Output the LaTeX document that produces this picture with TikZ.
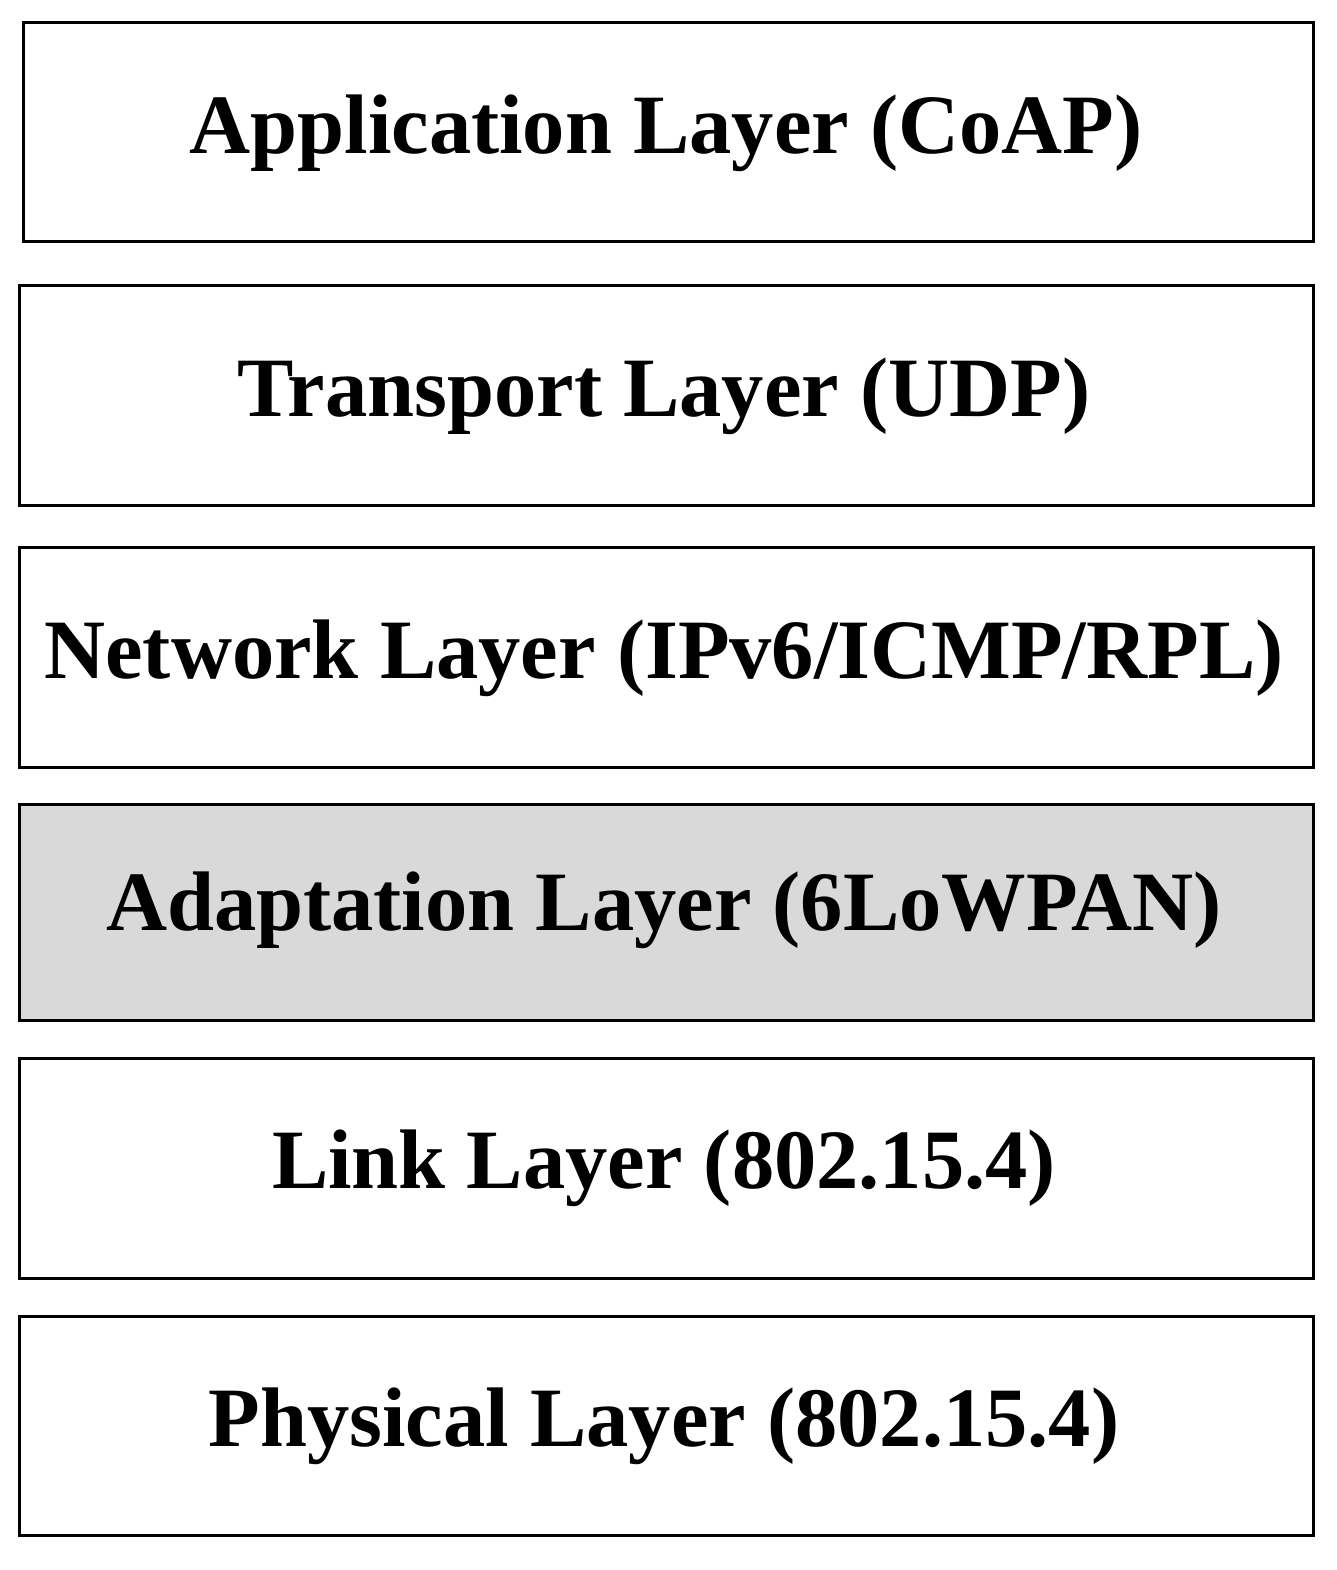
\documentclass[tikz,border=0pt]{standalone}
\usepackage{fontspec}
\setmainfont{Liberation Serif}
\begin{document}
\begin{tikzpicture}[x=1pt,y=-1pt,
  layerbox/.style={draw=black,line width=3pt},
  layertext/.style={anchor=base,font=\fontsize{84.5}{100}\selectfont\bfseries,inner sep=0pt}]
\useasboundingbox (0,0) rectangle (1337,1570);
\definecolor{adaptgray}{HTML}{D9D9D9}
\draw[layerbox] (23,23) rectangle (1313,242);
\draw[layerbox] (19,285) rectangle (1313,505);
\draw[layerbox] (19,547) rectangle (1313,767);
\draw[layerbox,fill=adaptgray] (19,804) rectangle (1313,1020);
\draw[layerbox] (19,1058) rectangle (1313,1278);
\draw[layerbox] (19,1316) rectangle (1313,1535);
\node[layertext] (app) at (666,154) {Application Layer (CoAP)};
\node[layertext] (tra) at (664,416) {Transport Layer (UDP)};
\node[layertext] (net) at (664,678) {Network Layer (IPv6/ICMP/RPL)};
\node[layertext] (ada) at (664,930) {Adaptation Layer (6LoWPAN)};
\node[layertext] (lnk) at (664,1188) {Link Layer (802.15.4)};
\node[layertext] (phy) at (664,1446) {Physical Layer (802.15.4)};
\end{tikzpicture}
\end{document}
